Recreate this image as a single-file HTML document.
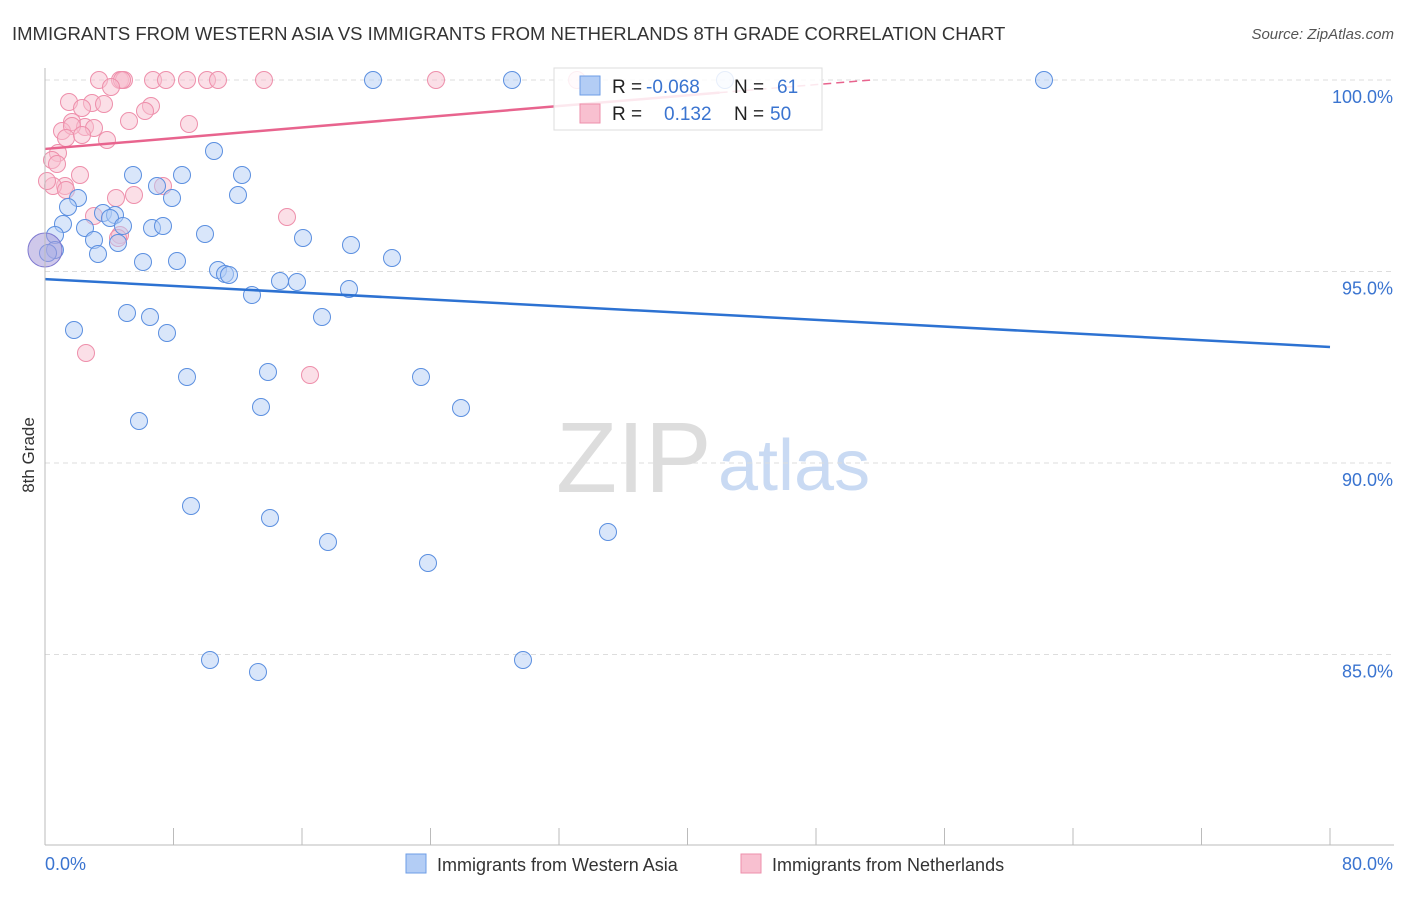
<!DOCTYPE html>
<html><head><meta charset="utf-8"><style>
body{margin:0;background:#fff;font-family:"Liberation Sans",sans-serif}
svg text{font-family:"Liberation Sans",sans-serif}
</style></head><body>
<svg id="c" width="1406" height="892" xmlns="http://www.w3.org/2000/svg">
<text x="12" y="40" font-size="18.5" fill="#333">IMMIGRANTS FROM WESTERN ASIA VS IMMIGRANTS FROM NETHERLANDS 8TH GRADE CORRELATION CHART</text>
<text x="1394" y="39" font-size="15" fill="#555" font-style="italic" text-anchor="end">Source: ZipAtlas.com</text>
<text x="556" y="492" font-size="100" fill="#ddd" font-family="Liberation Serif">ZIP</text>
<text x="718" y="490" font-size="72" fill="#c9daf3">atlas</text>
<text x="34" y="455" font-size="17" fill="#333" transform="rotate(-90 34 455)" text-anchor="middle">8th Grade</text>
<g id="grid"></g><g id="pts"></g><g id="lines"></g>
<line x1="45" y1="68" x2="45" y2="845" stroke="#bbb"/>
<line x1="45" y1="845" x2="1394" y2="845" stroke="#bbb"/>
<g>
<rect x="554" y="68" width="268" height="62" fill="#fff" fill-opacity="0.85" stroke="#ddd"/>
<rect x="580" y="76" width="20" height="19" fill="#b3cdf5" stroke="#6e9de6"/>
<rect x="580" y="104" width="20" height="19" fill="#f8c0d0" stroke="#ee8fab"/>
<text x="612" y="93" font-size="19" fill="#222">R =</text><text x="646" y="93" font-size="19" fill="#3a74d0">-0.068</text>
<text x="734" y="93" font-size="19" fill="#222">N =</text><text x="777" y="93" font-size="19" fill="#3a74d0">61</text>
<text x="612" y="120" font-size="19" fill="#222">R =</text><text x="664" y="120" font-size="19" fill="#3a74d0">0.132</text>
<text x="734" y="120" font-size="19" fill="#222">N =</text><text x="770" y="120" font-size="19" fill="#3a74d0">50</text>
</g>
<g>
<rect x="406" y="854" width="20" height="19" fill="#b3cdf5" stroke="#6e9de6"/>
<text x="437" y="871" font-size="18" fill="#333">Immigrants from Western Asia</text>
<rect x="741" y="854" width="20" height="19" fill="#f8c0d0" stroke="#ee8fab"/>
<text x="772" y="871" font-size="18" fill="#333">Immigrants from Netherlands</text>
</g>
<text x="45" y="870" font-size="18" fill="#3a74d0">0.0%</text>
<text x="1393" y="870" font-size="18" fill="#3a74d0" text-anchor="end">80.0%</text>
</svg>
<script>
const yTicks=[100,95,90,85];
const xTickVals=[0,8,16,24,32,40,48,56,64,72,80];
const blueX=[373,512,725,1044,214,133,182,242,157,238,78,172,68,103,115,63,110,152,163,123,85,205,55,94,118,303,351,55,48,98,392,143,177,218,225,229,280,297,252,349,127,150,74,167,322,187,268,421,261,461,139,191,270,328,428,608,210,258,523].map(p=>(p-45)/1285*80);
const blueY=[80,80,80,80,151,175,175,175,186,195,198,198,207,213,215,224,218,228,226,226,228,234,235,240,243,238,245,250,253,254,258,262,261,270,274,275,281,282,295,289,313,317,330,333,317,377,372,377,407,408,421,506,518,542,563,532,660,672,660].map(p=>100-(p-80)/38.3);
const pinkX=[99,120,124,153,166,187,207,218,264,436,577,122,111,69,92,104,82,151,145,72,129,189,62,85,72,94,66,82,107,58,52,57,80,65,53,47,116,134,163,287,94,120,118,86,310,66].map(p=>(p-45)/1285*80);
const pinkY=[80,80,80,80,80,80,80,80,80,80,80,80,87,102,103,104,108,106,111,122,121,124,131,127,126,128,138,135,140,153,160,164,175,186,186,181,198,195,186,217,216,235,238,353,375,190].map(p=>100-(p-80)/38.3);
const blueLine=[94.80,93.03];
const pinkLine=[98.20,0.035];
const X=v=>45+v/80*1285, Y=v=>80+(100-v)*38.3;
const NS='http://www.w3.org/2000/svg';
function mk(t,a,p){const e=document.createElementNS(NS,t);for(const k in a)e.setAttribute(k,a[k]);p.appendChild(e);return e;}
const g=document.getElementById('grid');
yTicks.forEach(t=>{const l=mk('line',{x1:45,x2:1394,y1:Y(t),y2:Y(t),stroke:'#ddd','stroke-dasharray':'5,4'},g);


const tx=mk('text',{x:1393,y:Y(t)+23,'font-size':18,fill:'#3a74d0','text-anchor':'end'},g);tx.textContent=t.toFixed(1)+'%';

});
xTickVals.forEach(t=>{const l=mk('line',{x1:X(t),x2:X(t),y1:828,y2:845,stroke:'#bbb'},g);

});
const P=document.getElementById('pts');
pinkX.forEach((x,i)=>{const c=mk('circle',{cx:X(x),cy:Y(pinkY[i]),r:8.5,fill:'#f8bfd0','fill-opacity':0.5,stroke:'#ee8fab','stroke-width':1},P);

});
blueX.forEach((x,i)=>{const c=mk('circle',{cx:X(x),cy:Y(blueY[i]),r:8.5,fill:'#b3cdf5','fill-opacity':0.5,stroke:'#5b8fe0','stroke-width':1},P);

});
const big=mk('circle',{cx:45,cy:250,r:17,fill:'#a89ad8','fill-opacity':0.55,stroke:'#7f7ad0'},P);


const L=document.getElementById('lines');
const bl=mk('line',{x1:X(0),y1:Y(blueLine[0]),x2:X(80),y2:Y(blueLine[1]),stroke:'#2d72d2','stroke-width':2.5},L);


const pl=mk('line',{x1:X(0),y1:Y(pinkLine[0]),x2:X(42),y2:Y(pinkLine[0]+pinkLine[1]*42),stroke:'#e8648e','stroke-width':2.5},L);


const pd=mk('line',{x1:X(42),y1:Y(pinkLine[0]+pinkLine[1]*42),x2:X(51.4),y2:Y(pinkLine[0]+pinkLine[1]*51.4),stroke:'#e8648e','stroke-width':1.5,'stroke-dasharray':'8,5'},L);


</script>
</body></html>
